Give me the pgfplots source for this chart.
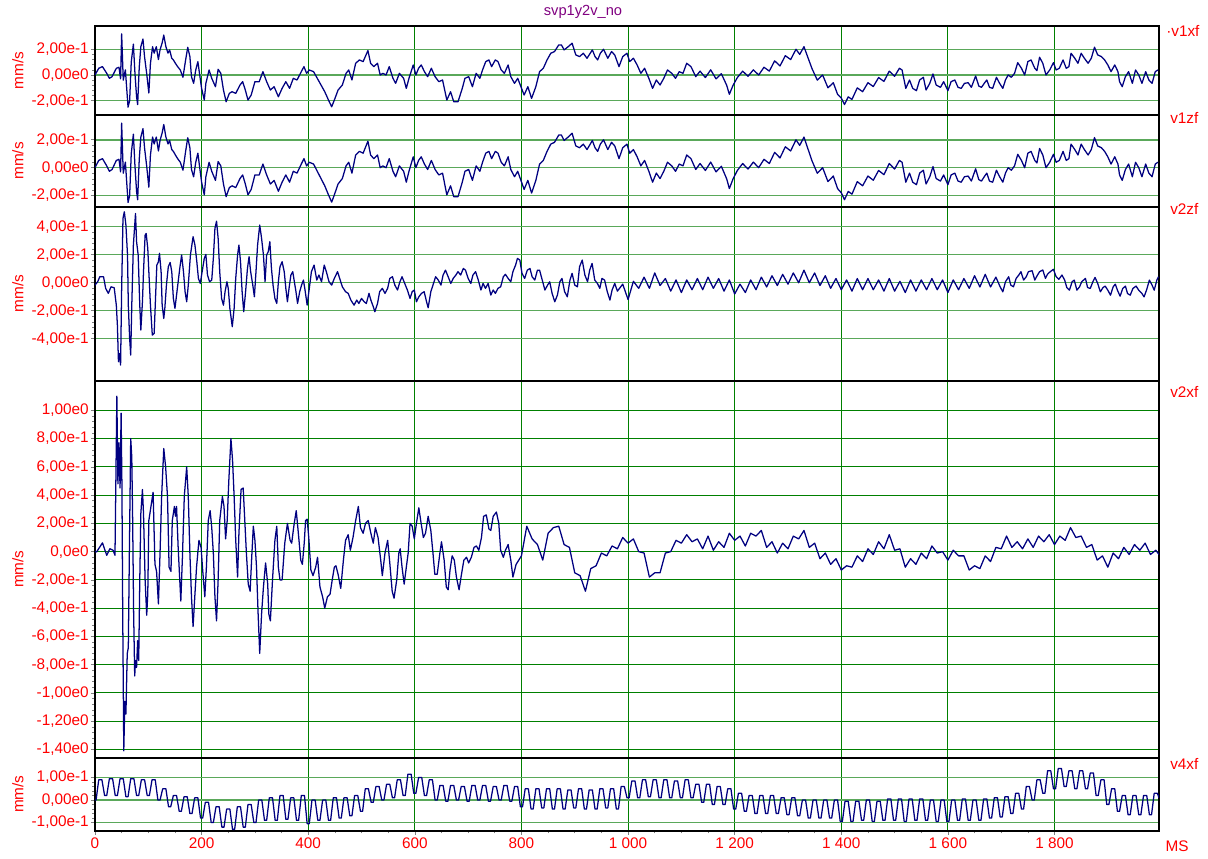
\documentclass[border=0pt]{standalone}
\usepackage{fontspec}
\setmainfont{Liberation Sans}
\usepackage{pgfplots}
\pgfplotsset{compat=1.18}
\usepackage{pgfplotstable}

\definecolor{navytrace}{RGB}{0,0,128}
\definecolor{vgrid}{RGB}{0,128,0}
\definecolor{hgrid}{RGB}{90,168,90}
\definecolor{hgriddark}{RGB}{0,128,0}
\definecolor{labred}{RGB}{255,0,0}
\definecolor{titlepurple}{RGB}{128,0,128}

\newcommand\lab{\fontsize{11.5}{13}\selectfont}

% velocity traces, time in ms, velocity in mm/s
\pgfplotstableread[row sep=\\]{
t v\\
0 0\\ 7 .052\\ 14 .065\\ 22 .013\\ 27 -.026\\ 32 -.013\\ 40 .052\\ 45 .06\\ 48 -.03\\ 50 .32\\ 53 -.04\\ 57 .04\\
62 -.25\\ 65 -.20\\ 68 .10\\ 72 .24\\ 75 .01\\ 78 -.17\\ 80 -.23\\ 83 .06\\ 86 .22\\ 90 .28\\ 93 .14\\ 97 .01\\
101 -.14\\ 104 .09\\ 108 .22\\ 111 .17\\ 115 .22\\ 119 .12\\ 122 .195\\ 126 .25\\ 129 .31\\ 133 .22\\ 137 .17\\
140 .195\\ 144 .13\\ 147 .117\\ 151 .09\\ 155 .065\\ 160 .039\\ 165 -.018\\ 170 .117\\ 174 .215\\ 178 .143\\
181 -.013\\ 185 -.065\\ 189 .039\\ 193 .104\\ 196 .013\\ 200 -.104\\ 205 -.195\\ 208 -.065\\ 214 .039\\ 219 -.026\\
226 -.091\\ 231 .044\\ 236 .013\\ 241 -.117\\ 246 -.208\\ 252 -.143\\ 257 -.13\\ 264 -.143\\ 272 -.078\\ 277 -.052\\
282 -.117\\ 287 -.195\\ 293 -.156\\ 300 -.052\\ 308 -.052\\ 315 .026\\ 322 -.052\\ 329 -.117\\ 336 -.091\\ 344 -.169\\
351 -.104\\ 358 -.052\\ 365 -.104\\ 372 -.026\\ 379 -.039\\ 387 .026\\ 392 .065\\ 397 .013\\ 402 .039\\ 410 .026\\
417 -.026\\ 424 -.078\\ 431 -.13\\ 438 -.195\\ 444 -.247\\ 449 -.195\\ 456 -.117\\ 464 -.078\\ 471 .013\\ 476 .039\\
482 -.039\\ 489 .091\\ 496 .117\\ 503 .104\\ 512 .190\\ 517 .091\\ 523 .065\\ 530 .091\\ 535 0\\ 540 .013\\ 546 0\\
552 .065\\ 559 -.026\\ 564 -.065\\ 571 .013\\ 579 -.026\\ 584 -.104\\ 589 -.026\\ 597 .078\\ 602 0\\ 607 .052\\
612 .078\\ 618 .026\\ 624 -.013\\ 631 .052\\ 638 -.013\\ 645 -.052\\ 652 -.039\\ 660 -.195\\ 667 -.130\\ 673 -.208\\
681 -.208\\ 689 -.104\\ 694 -.026\\ 701 -.013\\ 708 -.091\\ 715 .013\\ 722 -.026\\ 727 .039\\ 733 .104\\ 739 .117\\
744 .065\\ 751 .117\\ 756 .104\\ 762 .039\\ 768 .013\\ 775 .078\\ 780 -.013\\ 787 -.065\\ 793 -.026\\ 799 -.091\\
805 -.156\\ 812 -.091\\ 819 -.182\\ 827 -.091\\ 834 .026\\ 841 .052\\ 848 .117\\ 855 .169\\ 862 .182\\ 870 .234\\
875 .234\\ 880 .195\\ 888 .221\\ 895 .247\\ 902 .156\\ 909 .143\\ 916 .169\\ 923 .130\\ 933 .195\\ 938 .143\\
943 .117\\ 948 .169\\ 954 .200\\ 962 .130\\ 969 .182\\ 975 .156\\ 983 .065\\ 990 .143\\ 998 .169\\ 1003 .104\\
1010 .130\\ 1017 .078\\ 1024 .013\\ 1031 .052\\ 1039 -.026\\ 1046 -.104\\ 1053 -.039\\ 1060 -.078\\ 1067 -.026\\
1074 .039\\ 1082 .013\\ 1089 -.026\\ 1096 .026\\ 1103 .013\\ 1110 .091\\ 1118 .065\\ 1127 -.013\\
1135 .03\\ 1145 -.02\\ 1155 .04\\ 1165 -.03\\ 1175 .01\\ 1185 -.08\\ 1190 -.15\\ 1197 -.08\\ 1205 -.02\\ 1215 .03\\
1225 -.01\\ 1235 .04\\ 1245 0\\ 1255 .06\\ 1265 .03\\ 1275 .11\\ 1285 .07\\ 1295 .15\\ 1305 .12\\ 1315 .2\\
1322 .16\\ 1330 .22\\ 1337 .14\\ 1345 .05\\ 1355 -.04\\ 1365 0\\ 1375 -.1\\ 1385 -.06\\ 1393 -.15\\ 1400 -.18\\
1406 -.23\\ 1413 -.17\\ 1420 -.19\\ 1430 -.1\\ 1440 -.13\\ 1450 -.06\\ 1460 -.09\\ 1470 -.02\\ 1480 -.05\\ 1490 .03\\
1500 -.01\\ 1509 .052\\ 1514 .039\\ 1521 -.104\\ 1528 -.039\\ 1534 -.104\\ 1541 -.122\\ 1547 -.039\\ 1554 -.018\\
1559 -.117\\ 1566 -.065\\ 1572 .008\\ 1578 -.078\\ 1586 -.096\\ 1592 -.052\\ 1600 -.122\\ 1606 -.052\\ 1613 -.039\\
1619 -.096\\ 1625 -.104\\ 1631 -.065\\ 1638 -.060\\ 1644 -.096\\ 1652 -.008\\ 1658 -.086\\ 1663 -.096\\ 1669 -.060\\
1673 -.039\\ 1678 -.096\\ 1684 -.104\\ 1691 -.018\\ 1697 -.065\\ 1703 -.104\\ 1708 -.039\\ 1713 0\\ 1719 -.018\\
1725 .013\\ 1731 .096\\ 1738 .052\\ 1744 0\\ 1750 .104\\ 1756 .117\\ 1763 .052\\ 1767 .034\\ 1772 .138\\ 1778 .091\\
1784 0\\ 1791 .039\\ 1798 .096\\ 1803 .039\\ 1809 .052\\ 1816 .117\\ 1822 .052\\ 1827 .065\\ 1831 .169\\ 1838 .130\\
1844 .091\\ 1850 .169\\ 1856 .130\\ 1863 .091\\ 1869 .130\\ 1875 .216\\ 1881 .156\\ 1888 .143\\ 1894 .117\\ 1900 .078\\
1906 .026\\ 1913 .078\\ 1919 .026\\ 1922 -.052\\ 1927 -.091\\ 1933 -.013\\ 1939 .026\\ 1946 -.065\\ 1952 .039\\
1958 0\\ 1964 -.065\\ 1971 .026\\ 1977 -.039\\ 1983 -.065\\ 1989 .026\\ 1994 .039\\
}\vonexf

\pgfplotstableread[row sep=\\]{
t v\\
0 -.017\\ 5 .007\\ 9 .043\\ 16 .043\\ 20 -.040\\ 25 -.076\\ 30 -.029\\ 36 -.036\\ 40 -.160\\ 42 -.302\\ 44 -.564\\
46 -.505\\ 48 -.588\\ 50 -.040\\ 52.5 .460\\ 55 .507\\ 58 .412\\ 61 .198\\ 62.5 -.160\\ 65 -.398\\ 67 -.517\\ 69 -.160\\
72 .269\\ 76 .495\\ 78 .293\\ 81 .198\\ 84 -.160\\ 86 -.338\\ 89 -.136\\ 91 .079\\ 94 .340\\ 96 .352\\ 99 .245\\
101 .079\\ 104 -.160\\ 107.5 -.374\\ 111 -.362\\ 114 -.064\\ 116 .126\\ 119 .150\\ 121 .210\\ 124 .079\\ 126 -.160\\
129 -.255\\ 131 -.183\\ 134 -.017\\ 137.5 .114\\ 141 .145\\ 144 .079\\ 147 -.112\\ 150 -.183\\ 153 -.088\\ 156 .007\\
159 .102\\ 162.5 .198\\ 166 .079\\ 169 -.064\\ 172 -.136\\ 175 -.017\\ 179 .198\\ 184 .329\\ 187.5 .269\\ 191 .150\\
194 .031\\ 197.5 -.005\\ 201 .079\\ 205 .174\\ 208 .202\\ 211 .055\\ 215 .007\\ 219 .019\\ 222 .174\\ 225 .388\\
228 .440\\ 231 .317\\ 234 .079\\ 237.5 -.112\\ 241 -.160\\ 244 -.064\\ 247.5 .007\\ 250 -.040\\ 253 -.183\\
257.5 -.314\\ 261 -.183\\ 264 .031\\ 267.5 .198\\ 270 .269\\ 273 .150\\ 276 -.064\\ 279 -.207\\ 282.5 -.064\\
286 .102\\ 289 .186\\ 292 .079\\ 296 -.017\\ 299 -.100\\ 302 .079\\ 305 .269\\ 309 .412\\ 312.5 .317\\ 316 .198\\
319 .007\\ 322 .198\\ 325 .221\\ 328 .293\\ 331 .102\\ 334 -.017\\ 337.5 -.112\\ 341 -.148\\ 344 .007\\ 347 .114\\
351 .150\\ 355 .079\\ 358 -.040\\ 361 -.136\\ 364 -.040\\ 367.5 .055\\ 371 .079\\ 374 .007\\ 377 -.064\\ 380 -.148\\
384 -.064\\ 387.5 -.017\\ 391 .019\\ 394 -.052\\ 398 -.160\\ 402 -.040\\ 406 .079\\ 411 .126\\ 416 .019\\ 420 .055\\
425 .007\\ 430 .126\\ 434 .079\\ 439 .007\\ 444 -.017\\ 449 .031\\ 455 .079\\ 459 .031\\ 464 -.029\\ 470 -.064\\
475 -.076\\ 480 -.124\\ 486 -.160\\ 491 -.124\\ 495 -.148\\ 500 -.112\\ 505 -.136\\ 509 -.148\\ 514 -.076\\
517.5 -.124\\ 522 -.171\\ 525 -.207\\ 530 -.148\\ 534 -.064\\ 539 -.040\\ 544 -.076\\ 549 -.040\\ 553 .031\\
558 .043\\ 562.5 -.017\\ 567.5 -.052\\ 572 .007\\ 576 .043\\ 581 -.005\\ 586 -.052\\ 591 -.112\\ 595 -.064\\
599 -.052\\ 603 -.136\\ 607.5 -.100\\ 612.5 -.076\\ 617.5 -.064\\ 622 -.136\\ 625 -.179\\ 630 -.064\\ 634 -.017\\
639 .043\\ 644 .019\\ 649 -.017\\ 653 .055\\ 657.5 .090\\ 662.5 .043\\ 667.5 -.005\\ 672 .031\\ 677 .055\\
681 .079\\ 686 .055\\ 691 .102\\ 695 .090\\ 700 .031\\ 705 -.005\\ 709 .055\\ 714 .079\\ 719 .019\\ 724 -.052\\
728 -.005\\ 732.5 -.040\\ 737.5 -.005\\ 742.5 -.088\\ 747 -.052\\ 751 -.076\\ 756 -.040\\ 761 -.029\\ 766 .043\\
770 .060\\ 775 .031\\ 780 .007\\ 784 .079\\ 789 .126\\ 792.5 .174\\ 797 .162\\ 801 .067\\ 806 .031\\ 811 .090\\
816 .102\\ 820 .043\\ 825 .019\\ 830 .090\\ 834 .090\\ 839 .019\\ 844 -.052\\ 849 -.017\\ 853 .007\\ 857.5 -.076\\
862.5 -.136\\ 867.5 -.088\\ 872 .007\\ 876 .031\\ 881 -.064\\ 886 -.100\\ 891 .019\\ 895 .067\\ 900 -.017\\
905 -.029\\ 909 .114\\ 914 .162\\ 919 .055\\ 924 .007\\ 928 .090\\ 932.5 .138\\ 937.5 .019\\ 942.5 -.005\\
947 -.040\\ 951 .031\\ 956 .019\\ 961 -.064\\ 966 -.124\\ 970 -.052\\ 975 -.005\\
980 -.06\\ 990 -.01\\ 1000 -.12\\ 1010 .01\\ 1020 -.04\\ 1030 .04\\ 1040 -.04\\ 1050 .07\\ 1060 -.02\\ 1070 .03\\
1080 -.06\\ 1090 .02\\ 1100 -.07\\ 1110 .02\\ 1120 -.05\\ 1130 .03\\ 1140 -.05\\ 1150 .04\\ 1160 -.04\\ 1170 .03\\
1180 -.06\\ 1190 .02\\ 1200 -.08\\ 1210 -.01\\ 1220 -.07\\ 1230 .02\\ 1240 -.05\\ 1250 .04\\ 1260 -.03\\ 1270 .05\\
1280 -.02\\ 1290 .06\\ 1300 -.01\\ 1310 .07\\ 1320 0\\ 1330 .09\\ 1340 0\\ 1350 .07\\ 1360 -.02\\ 1370 .05\\
1380 -.04\\ 1390 .03\\ 1400 -.05\\ 1410 .02\\ 1420 -.06\\ 1430 .03\\ 1440 -.05\\ 1450 .03\\ 1460 -.05\\ 1470 .02\\
1480 -.06\\ 1490 .03\\ 1500 -.06\\ 1510 .01\\ 1520 -.07\\ 1530 .02\\ 1540 -.06\\ 1550 .02\\ 1560 -.05\\ 1570 .03\\
1580 -.05\\ 1590 .02\\ 1600 -.07\\ 1610 .02\\ 1620 -.05\\ 1630 .03\\ 1640 -.04\\ 1650 .05\\ 1660 -.03\\ 1670 .06\\
1680 -.03\\ 1690 .04\\
1698 -.029\\ 1703 -.065\\ 1708 .007\\ 1714 .043\\ 1718 -.017\\ 1723 -.029\\ 1728 .031\\ 1733 .055\\ 1737 .079\\
1742 .019\\ 1747 .043\\ 1751 .079\\ 1758 .086\\ 1763 .019\\ 1767 .048\\ 1772 .079\\ 1778 .091\\ 1783 .031\\
1787 .062\\ 1792 .079\\ 1798 .096\\ 1803 .043\\ 1808 .024\\ 1814 .055\\ 1819 .019\\ 1823 -.034\\ 1828 -.053\\
1833 .007\\ 1837 .019\\ 1842 -.053\\ 1847 -.029\\ 1851 .007\\ 1858 .031\\ 1862 -.034\\ 1867 -.041\\ 1872 .007\\
1876 .038\\ 1881 -.005\\ 1886 -.065\\ 1891 -.034\\ 1895 -.024\\ 1900 -.053\\ 1905 -.089\\ 1910 -.029\\ 1914 -.010\\
1918 -.053\\ 1923 -.096\\ 1928 -.041\\ 1933 -.024\\ 1937 -.077\\ 1942 -.089\\ 1947 -.041\\ 1953 -.024\\ 1958 -.053\\
1964 -.077\\ 1968 -.101\\ 1973 -.048\\ 1978 .019\\ 1983 -.017\\ 1987 -.053\\ 1992 .019\\ 1995 .043\\
}\vtwozf

\pgfplotstableread[row sep=\\]{
t v\\
0 0\\ 3 -.002\\ 14 .062\\ 22 -.026\\ 28 .021\\ 34 .009\\ 37.5 -.026\\ 39 .45\\ 41 1.10\\ 43 .48\\ 45 .77\\ 47 .45\\
49 .98\\ 50.5 .48\\ 52 -.44\\ 54 -1.41\\ 56 -1.06\\ 58 -1.15\\ 60.5 -.72\\ 62.5 -.68\\ 64.5 0\\ 67 .80\\ 69 .67\\
70.5 .27\\ 72.5 -.44\\ 74.5 -.88\\ 76 -.77\\ 78 -.82\\ 80 -.63\\ 82 -.77\\ 84 -.2\\ 86 .27\\ 89 .44\\ 91 .27\\
94 -.2\\ 97 -.45\\ 99 -.3\\ 101 .22\\ 105 .32\\ 109 .42\\ 112.5 -.09\\ 115.5 -.14\\ 119 -.37\\ 122 -.01\\ 125 .39\\
129 .73\\ 132.5 .60\\ 136 .39\\ 139 -.11\\ 142.5 -.14\\ 145 .22\\ 149 .32\\ 151 .25\\ 153 .32\\ 156 .03\\ 159 -.2\\
161 -.35\\ 164 -.04\\ 167.5 .39\\ 172 .60\\ 175 .39\\ 178 -.01\\ 181 -.32\\ 184 -.53\\ 187.5 -.3\\ 190.5 -.11\\
195 .08\\ 199 .03\\ 202 -.13\\ 206 -.32\\ 209 -.11\\ 212.5 .22\\ 216 .29\\ 219 .17\\ 222 -.01\\ 225 -.32\\ 228 -.49\\
231 -.2\\ 234 .22\\ 239 .39\\ 242 .32\\ 245 .09\\ 248 .22\\ 251 .50\\ 255 .80\\ 258 .65\\ 261 .39\\ 264 .08\\
267.5 -.18\\ 270 .13\\ 274 .44\\ 278 .45\\ 281 .22\\ 284 -.01\\ 287.5 -.23\\ 291 -.28\\ 294 -.04\\ 297 .18\\
300 .08\\ 303 -.11\\ 306 -.44\\ 309 -.72\\ 312.5 -.44\\ 316 -.25\\ 320 -.08\\ 324 -.23\\ 326 -.44\\ 329 -.49\\
333 -.2\\ 337.5 .08\\ 341 .18\\ 344 -.11\\ 347 -.2\\ 351 -.2\\ 356 .06\\ 361 .20\\ 366 .08\\ 369 .06\\ 373 .18\\
377.5 .29\\ 381 .15\\ 386 -.06\\ 389 -.09\\ 392.5 .06\\ 395 .22\\ 398 .23\\ 401 .1\\ 405 -.13\\ 409 -.17\\ 414 -.11\\
417.5 -.04\\ 422 -.25\\ 427 -.32\\ 431 -.40\\ 436 -.32\\ 441 -.30\\ 445 -.2\\ 449 -.11\\ 452 -.1\\ 456 -.16\\
461 -.26\\ 466 -.06\\ 470 .08\\ 475 .12\\ 479 .01\\ 484 .10\\ 489 .22\\ 494 .32\\ 498 .17\\ 503 .13\\ 507.5 .20\\
512.5 .22\\ 517.5 .13\\ 522 .06\\ 526 .17\\ 531 .10\\ 536 -.06\\ 539 -.17\\ 544 -.01\\ 549 .08\\ 553 -.08\\
557.5 -.28\\ 561 -.33\\ 566 -.2\\ 570 -.01\\ 572.5 .02\\ 576 -.11\\ 580 -.23\\ 584 -.11\\ 587.5 -.01\\ 591 .20\\
595 .18\\ 599 .09\\ 603 .20\\ 607.5 .31\\ 611 .22\\ 616 .10\\ 620 .13\\ 625 .25\\ 630 .15\\ 634 -.01\\ 637.5 -.16\\
642 -.16\\ 647 -.01\\ 650 .07\\ 655 -.06\\ 659 -.25\\ 662.5 -.27\\ 666 -.13\\ 670 -.03\\ 674 -.06\\ 678 -.18\\
683 -.27\\ 687.5 -.16\\ 692 -.06\\ 697 -.04\\ 701 -.08\\ 706 -.04\\ 711 .03\\ 715.5 .04\\ 720 .01\\ 725 .10\\
729 .25\\ 734 .26\\ 739 .16\\ 742.5 .15\\ 747 .25\\ 753 .28\\ 757.5 .20\\ 761 .01\\ 766 -.04\\ 770 .01\\ 775 .05\\
780 -.06\\ 784 -.18\\
790 -.09\\ 800 -.03\\ 810 .18\\ 820 .09\\ 830 .05\\ 840 -.06\\ 850 .13\\ 860 .17\\ 870 .18\\ 880 .05\\ 890 .03\\
900 -.15\\ 910 -.17\\ 920 -.28\\ 930 -.12\\ 940 -.10\\ 950 -.01\\ 960 -.03\\ 970 .04\\ 980 .02\\ 990 .10\\ 1000 .06\\
1010 .09\\ 1020 0\\ 1030 -.01\\ 1040 -.18\\ 1050 -.15\\ 1060 -.15\\ 1070 -.01\\ 1080 0\\ 1090 .08\\ 1100 .06\\
1110 .12\\ 1120 .07\\ 1130 .09\\ 1140 .02\\ 1150 .11\\ 1160 .01\\ 1170 .07\\ 1180 .03\\ 1190 .13\\ 1200 .08\\
1210 .11\\ 1220 .04\\ 1230 .13\\ 1240 .11\\ 1250 .15\\ 1260 .03\\ 1270 .07\\ 1280 -.01\\ 1290 .06\\ 1300 .02\\
1310 .11\\ 1320 .09\\ 1330 .15\\ 1340 .03\\ 1350 .06\\ 1360 -.05\\ 1370 -.01\\ 1380 -.09\\ 1390 -.05\\ 1400 -.13\\
1410 -.10\\ 1420 -.11\\ 1430 -.03\\ 1440 -.07\\ 1450 .02\\ 1460 -.02\\ 1470 .07\\ 1480 .02\\ 1490 .12\\ 1500 .01\\
1510 .02\\ 1520 -.11\\ 1530 -.05\\ 1540 -.09\\ 1550 -.01\\ 1560 -.05\\ 1570 .04\\ 1580 -.01\\ 1590 0\\ 1600 -.06\\
1610 .01\\ 1620 -.03\\ 1630 -.03\\ 1640 -.13\\ 1650 -.10\\ 1660 -.12\\ 1670 -.03\\ 1680 -.07\\ 1690 .03\\ 1700 .02\\
1710 .11\\ 1720 .03\\ 1730 .07\\ 1740 .02\\ 1750 .09\\ 1760 .03\\ 1770 .11\\ 1780 .07\\ 1790 .12\\ 1800 .05\\
1810 .11\\ 1820 .08\\ 1830 .17\\ 1840 .10\\ 1850 .11\\ 1860 .03\\ 1870 .05\\ 1880 -.06\\ 1890 -.03\\ 1900 -.11\\
1910 -.01\\ 1920 -.05\\ 1930 .03\\ 1940 -.02\\ 1950 .05\\ 1960 .01\\ 1970 .06\\ 1980 -.02\\ 1990 .01\\ 1996 -.02\\
}\vtwoxf

\pgfplotstableread[row sep=\\]{
t v\\
0 0\\ 2 0\\ 7 .09\\ 13 .09\\ 18 .02\\ 22 .02\\ 27 .095\\ 33 .095\\ 38 .02\\ 42 .02\\ 47 .095\\ 53 .095\\
58 .015\\ 62 .015\\ 67 .095\\ 73 .095\\ 78 .02\\ 82 .02\\ 87 .09\\ 93 .09\\ 98 .02\\ 102 .02\\ 107 .09\\ 113 .09\\
118 0\\ 122 0\\ 127 .05\\ 133 .05\\ 138 -.03\\ 142 -.03\\ 147 .02\\ 153 .02\\ 158 -.05\\ 162 -.05\\ 167 .015\\ 173 .015\\
178 -.06\\ 182 -.06\\ 187 .01\\ 193 .01\\ 198 -.08\\ 202 -.08\\ 207 -.01\\ 213 -.01\\ 218 -.10\\ 222 -.10\\ 227 -.03\\ 233 -.03\\
238 -.12\\ 242 -.12\\ 247 -.04\\ 253 -.04\\ 258 -.13\\ 262 -.13\\ 267 -.03\\ 273 -.03\\ 278 -.12\\ 282 -.12\\ 287 -.02\\ 293 -.02\\
298 -.10\\ 302 -.10\\ 307 0\\ 313 0\\ 318 -.09\\ 322 -.09\\ 327 .01\\ 333 .01\\ 338 -.09\\ 342 -.09\\ 347 .02\\ 353 .02\\
358 -.085\\ 362 -.085\\ 367 .01\\ 373 .01\\ 378 -.09\\ 382 -.09\\ 387 .02\\ 393 .02\\ 398 -.105\\ 402 -.105\\ 407 0\\ 413 0\\
418 -.09\\ 422 -.09\\ 427 0\\ 433 0\\ 438 -.09\\ 442 -.09\\ 447 .01\\ 453 .01\\ 458 -.08\\ 462 -.08\\ 467 .01\\ 473 .01\\
478 -.07\\ 482 -.07\\ 487 .02\\ 493 .02\\ 498 -.05\\ 502 -.05\\ 507 .05\\ 513 .05\\ 518 -.01\\ 522 -.01\\ 527 .06\\ 533 .06\\
538 0\\ 542 0\\ 547 .07\\ 553 .07\\ 558 .01\\ 562 .01\\ 567 .09\\ 573 .09\\ 578 .02\\ 582 .02\\ 587 .115\\ 593 .115\\
598 .03\\ 602 .03\\ 607 .10\\ 613 .10\\ 618 .02\\ 622 .02\\ 627 .09\\ 633 .09\\ 638 0\\ 642 0\\ 647 .065\\ 653 .065\\
658 -.005\\ 662 -.005\\ 667 .065\\ 673 .065\\ 678 0\\ 682 0\\ 687 .06\\ 693 .06\\ 698 -.005\\ 702 -.005\\ 707 .065\\ 713 .065\\
718 0\\ 722 0\\ 727 .065\\ 733 .065\\ 738 -.005\\ 742 -.005\\ 747 .06\\ 753 .06\\ 758 0\\ 762 0\\ 767 .065\\ 773 .065\\
778 -.005\\ 782 -.005\\ 787 .06\\ 793 .06\\ 798 -.03\\ 802 -.03\\ 807 .05\\ 813 .05\\ 818 -.04\\ 822 -.04\\ 827 .05\\ 833 .05\\
838 -.035\\ 842 -.035\\ 847 .05\\ 853 .05\\ 858 -.04\\ 862 -.04\\ 867 .05\\ 873 .05\\ 878 -.04\\ 882 -.04\\ 887 .045\\ 893 .045\\
898 -.035\\ 902 -.035\\ 907 .05\\ 913 .05\\ 918 -.04\\ 922 -.04\\ 927 .045\\ 933 .045\\ 938 -.04\\ 942 -.04\\ 947 .05\\ 953 .05\\
958 -.035\\ 962 -.035\\ 967 .05\\ 973 .05\\ 978 -.04\\ 982 -.04\\ 987 .06\\ 993 .06\\ 998 .01\\ 1002 .01\\ 1007 .085\\ 1013 .085\\
1018 .01\\ 1022 .01\\ 1027 .09\\ 1033 .09\\ 1038 .015\\ 1042 .015\\ 1047 .09\\ 1053 .09\\ 1058 .01\\ 1062 .01\\ 1067 .09\\ 1073 .09\\
1078 .01\\ 1082 .01\\ 1087 .085\\ 1093 .085\\ 1098 .01\\ 1102 .01\\ 1107 .09\\ 1113 .09\\ 1118 .01\\ 1122 .01\\ 1127 .07\\ 1133 .07\\
1138 -.01\\ 1142 -.01\\ 1147 .07\\ 1153 .07\\ 1158 -.02\\ 1162 -.02\\ 1167 .06\\ 1173 .06\\ 1178 -.02\\ 1182 -.02\\ 1187 .05\\ 1193 .05\\
1198 -.04\\ 1202 -.04\\ 1207 .03\\ 1213 .03\\ 1218 -.05\\ 1222 -.05\\ 1227 .02\\ 1233 .02\\ 1238 -.06\\ 1242 -.06\\ 1247 .02\\ 1253 .02\\
1258 -.06\\ 1262 -.06\\ 1267 .02\\ 1273 .02\\ 1278 -.06\\ 1282 -.06\\ 1287 .01\\ 1293 .01\\ 1298 -.065\\ 1302 -.065\\ 1307 .01\\ 1313 .01\\
1318 -.07\\ 1322 -.07\\ 1327 0\\ 1333 0\\ 1338 -.08\\ 1342 -.08\\ 1347 0\\ 1353 0\\ 1358 -.08\\ 1362 -.08\\ 1367 0\\ 1373 0\\
1378 -.08\\ 1382 -.08\\ 1387 0\\ 1393 0\\ 1398 -.095\\ 1402 -.095\\ 1407 -.005\\ 1413 -.005\\ 1418 -.095\\ 1422 -.095\\ 1427 -.005\\ 1433 -.005\\
1438 -.09\\ 1442 -.09\\ 1447 0\\ 1453 0\\ 1458 -.095\\ 1462 -.095\\ 1467 -.005\\ 1473 -.005\\ 1478 -.09\\ 1482 -.09\\ 1487 .005\\ 1493 .005\\
1498 -.09\\ 1502 -.09\\ 1507 .005\\ 1513 .005\\ 1518 -.095\\ 1522 -.095\\ 1527 .005\\ 1533 .005\\ 1538 -.09\\ 1542 -.09\\ 1547 .005\\ 1553 .005\\
1558 -.09\\ 1562 -.09\\ 1567 0\\ 1573 0\\ 1578 -.095\\ 1582 -.095\\ 1587 0\\ 1593 0\\ 1598 -.095\\ 1602 -.095\\ 1607 0\\ 1613 0\\
1618 -.09\\ 1622 -.09\\ 1627 .005\\ 1633 .005\\ 1638 -.09\\ 1642 -.09\\ 1647 0\\ 1653 0\\ 1658 -.09\\ 1662 -.09\\ 1667 .005\\ 1673 .005\\
1678 -.08\\ 1682 -.08\\ 1687 .01\\ 1693 .01\\ 1698 -.075\\ 1702 -.075\\ 1707 .015\\ 1713 .015\\ 1718 -.06\\ 1722 -.06\\ 1727 .03\\ 1733 .03\\
1738 -.04\\ 1742 -.04\\ 1747 .06\\ 1753 .06\\ 1758 0\\ 1762 0\\ 1767 .09\\ 1773 .09\\ 1778 .03\\ 1782 .03\\ 1787 .13\\ 1793 .13\\
1798 .05\\ 1802 .05\\ 1807 .14\\ 1813 .14\\ 1818 .06\\ 1822 .06\\ 1827 .13\\ 1833 .13\\ 1838 .05\\ 1842 .05\\ 1847 .13\\ 1853 .13\\
1858 .05\\ 1862 .05\\ 1867 .12\\ 1873 .12\\ 1878 .02\\ 1882 .02\\ 1887 .09\\ 1893 .09\\ 1898 -.02\\ 1902 -.02\\ 1907 .05\\ 1913 .05\\
1918 -.05\\ 1922 -.05\\ 1927 .02\\ 1933 .02\\ 1938 -.065\\ 1942 -.065\\ 1947 .02\\ 1953 .02\\ 1958 -.065\\ 1962 -.065\\ 1967 .02\\ 1973 .02\\
1978 -.065\\ 1982 -.065\\ 1987 .03\\ 1993 .03\\ 1996 .01\\
}\vfourxf

\pgfplotsset{
  trace panel/.style={
    scale only axis,
    width=798pt,
    anchor=south west,
    xmin=0, xmax=1996,
    xtick={0,200,...,1800},
    xmajorgrids, ymajorgrids,
    major x grid style={vgrid, line width=0.7pt},
    major y grid style={hgrid, line width=1.1pt},
    axis line style={black, line width=1.3pt},
    tick align=outside,
    ytick pos=left, xtick pos=bottom,
    minor y tick num=4,
    major tick length=3pt,
    minor tick length=2pt,
    tick style={gray, line width=0.5pt},
    yticklabel style={font=\lab, text=labred, inner sep=0pt, xshift=-1.5pt},
    every axis y label/.style={at={(rel axis cs:0,0.5)}, xshift=-57.75pt, rotate=90, anchor=center},
    ylabel style={font=\lab, text=labred},
    ylabel={mm/s},
  },
  upper panel/.style={xticklabels={}, x tick style={draw=none}},
  trace/.style={navytrace, line width=0.95pt, line join=round, no markers},
}

\begin{document}
\begin{tikzpicture}
\path[use as bounding box] (0,0) rectangle (906pt,644.25pt);

% v1xf
\begin{axis}[trace panel, upper panel, at={(71.25pt,558pt)}, height=66.75pt,
  ymin=-0.311, ymax=0.381, ytick={-0.2,0,0.2},
  yticklabels={{-2,00e-1},{0,00e0},{2,00e-1}}]
\addplot[trace] table[x=t,y=v]{\vonexf};
\end{axis}

% v1zf
\begin{axis}[trace panel, upper panel, at={(71.25pt,489.2pt)}, height=68.8pt,
  ymin=-0.280, ymax=0.378, ytick={-0.2,0,0.2},
  yticklabels={{-2,00e-1},{0,00e0},{2,00e-1}}]
\addplot[trace] table[x=t,y=v]{\vonexf};
\end{axis}

% v2zf
\begin{axis}[trace panel, upper panel, at={(71.25pt,358.7pt)}, height=130.5pt,
  ymin=-0.700, ymax=0.543, ytick={-0.4,-0.2,0,0.2,0.4},
  yticklabels={{-4,00e-1},{-2,00e-1},{0,00e0},{2,00e-1},{4,00e-1}}]
\addplot[trace] table[x=t,y=v]{\vtwozf};
\end{axis}

% v2xf
\begin{axis}[trace panel, upper panel, at={(71.25pt,76pt)}, height=282.75pt,
  ymin=-1.458, ymax=1.210, ytick={-1.4,-1.2,-1,-0.8,-0.6,-0.4,-0.2,0,0.2,0.4,0.6,0.8,1},
  major y grid style={hgriddark, line width=0.8pt},
  yticklabels={{-1,40e0},{-1,20e0},{-1,00e0},{-8,00e-1},{-6,00e-1},{-4,00e-1},{-2,00e-1},{0,0e0},{2,00e-1},{4,00e-1},{6,00e-1},{8,00e-1},{1,00e0}}]
\addplot[trace] table[x=t,y=v]{\vtwoxf};
\end{axis}

% v4xf
\begin{axis}[trace panel, at={(71.25pt,21.2pt)}, height=54.75pt,
  ymin=-0.136, ymax=0.188, ytick={-0.1,0,0.1},
  yticklabels={{-1,00e-1},{0,00e0},{1,00e-1}},
  minor x tick num=3,
  xticklabels={0,200,400,600,800,1 000,1 200,1 400,1 600,1 800},
  xticklabel style={font=\lab, text=labred, inner sep=0pt, yshift=-2pt}]
\addplot[trace] table[x=t,y=v]{\vfourxf};
\end{axis}

% titles and channel names
\node[font=\fontsize{11}{13}\selectfont, text=titlepurple] at (437.25pt,635.25pt) {svp1y2v\_no};
\begin{scope}[every node/.style={font=\lab, text=labred, anchor=west, inner sep=0pt}]
\node at (874.5pt,621pt) {·v1xf};
\node at (877.5pt,555.75pt) {v1zf};
\node at (877.5pt,487.5pt) {v2zf};
\node at (877.5pt,350.25pt) {v2xf};
\node at (877.5pt,71.25pt) {v4xf};
\node at (874pt,9.75pt) {MS};
\end{scope}
\end{tikzpicture}
\end{document}
